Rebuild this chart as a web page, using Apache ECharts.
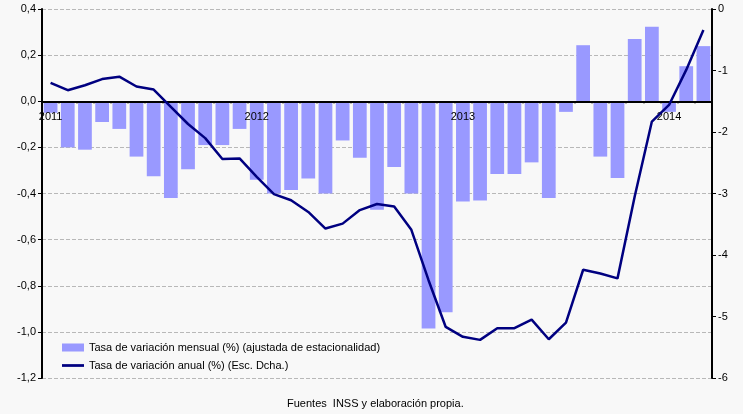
<!DOCTYPE html>
<html>
<head>
<meta charset="utf-8">
<title>Tasa de variación</title>
<script src="https://cdn.jsdelivr.net/npm/echarts@6/dist/echarts.min.js"></script>
<style>
html, body { margin: 0; padding: 0; background: #f8f8f8; }
#main { width: 743px; height: 414px; }
</style>
</head>
<body>
<div id="main"></div>
<script>
// meses ene-2011 .. mar-2014
var meses = [
	'2011-01','2011-02','2011-03','2011-04','2011-05','2011-06','2011-07','2011-08','2011-09','2011-10','2011-11','2011-12',
	'2012-01','2012-02','2012-03','2012-04','2012-05','2012-06','2012-07','2012-08','2012-09','2012-10','2012-11','2012-12',
	'2013-01','2013-02','2013-03','2013-04','2013-05','2013-06','2013-07','2013-08','2013-09','2013-10','2013-11','2013-12',
	'2014-01','2014-02','2014-03'
];
// tasa mensual (%) ajustada de estacionalidad, eje izquierdo
var mensual = [
	-0.05, -0.20, -0.21, -0.09, -0.12, -0.24, -0.325, -0.42, -0.295, -0.19, -0.19, -0.12,
	-0.34, -0.40, -0.385, -0.335, -0.40, -0.17, -0.245, -0.47, -0.285, -0.40, -0.985, -0.915,
	-0.435, -0.43, -0.315, -0.315, -0.265, -0.42, -0.046, 0.243, -0.24, -0.333, 0.27, 0.323,
	-0.046, 0.152, 0.239
];
// tasa anual (%), eje derecho
var anual = [
	-1.20, -1.32, -1.24, -1.14, -1.10, -1.26, -1.31, -1.59, -1.87, -2.10, -2.44, -2.43,
	-2.73, -3.01, -3.11, -3.30, -3.57, -3.49, -3.27, -3.17, -3.21, -3.59, -4.41, -5.17,
	-5.33, -5.38, -5.19, -5.19, -5.05, -5.37, -5.10, -4.24, -4.30, -4.38, -3.05, -1.83,
	-1.56, -0.99, -0.34
];

var fuente = 'Liberation Sans, Arial, sans-serif';
var myChart = echarts.init(document.getElementById('main'));
var option = {
	backgroundColor: '#f8f8f8',
	animation: false,
	textStyle: { fontFamily: fuente },
	title: {
		text: 'Fuentes  INSS y elaboración propia.',
		left: 282,
		bottom: 0,
		textStyle: { fontSize: 11, fontWeight: 'normal', color: '#000', fontFamily: fuente }
	},
	legend: {
		orient: 'vertical',
		left: 57,
		top: 337,
		itemWidth: 22,
		itemHeight: 8,
		itemGap: 7,
		textStyle: { fontSize: 11, color: '#000', fontFamily: fuente },
		data: [
			{ name: 'Tasa de variación mensual (%) (ajustada de estacionalidad)', icon: 'rect' },
			{ name: 'Tasa de variación anual (%) (Esc. Dcha.)', icon: 'path://M0,0h24v3h-24z' }
		]
	},
	grid: { left: 42, right: 31, top: 9, bottom: 36 },
	xAxis: {
		type: 'category',
		data: meses,
		boundaryGap: true,
		z: 5,
		axisLine: { onZero: true, lineStyle: { color: '#000', width: 2 } },
		axisTick: { show: true, interval: 0, length: 2, lineStyle: { color: '#000', width: 2 } },
		axisLabel: {
			interval: 11,
			margin: -267,
			fontSize: 11,
			color: '#000',
			formatter: function (v) { return v.substring(0, 4); }
		},
		splitLine: { show: false }
	},
	yAxis: [{
		type: 'value',
		min: -1.2,
		max: 0.4,
		interval: 0.2,
		axisLine: { show: true, lineStyle: { color: '#000', width: 2 } },
		axisTick: { show: true, length: 4, lineStyle: { color: '#000' } },
		axisLabel: {
			fontSize: 11,
			color: '#000',
			margin: 6,
			formatter: function (v) { return (Math.round(v * 10) / 10).toFixed(1).replace('.', ','); }
		},
		splitLine: { show: true, lineStyle: { color: '#b8b8b8', type: 'dashed', width: 1 } }
	}, {
		type: 'value',
		min: -6,
		max: 0,
		interval: 1,
		position: 'right',
		axisLine: { show: true, lineStyle: { color: '#000', width: 2 } },
		axisTick: { show: true, length: 4, lineStyle: { color: '#000' } },
		axisLabel: { fontSize: 11, color: '#000', margin: 6 },
		splitLine: { show: false }
	}],
	series: [{
		name: 'Tasa de variación mensual (%) (ajustada de estacionalidad)',
		type: 'bar',
		yAxisIndex: 0,
		barCategoryGap: '20%',
		itemStyle: { color: '#9999ff' },
		data: mensual
	}, {
		name: 'Tasa de variación anual (%) (Esc. Dcha.)',
		type: 'line',
		yAxisIndex: 1,
		z: 6,
		symbol: 'none',
		smooth: false,
		lineStyle: { color: '#000080', width: 2.5 },
		itemStyle: { color: '#000080' },
		data: anual
	}]
};
myChart.setOption(option);
</script>
</body>
</html>
